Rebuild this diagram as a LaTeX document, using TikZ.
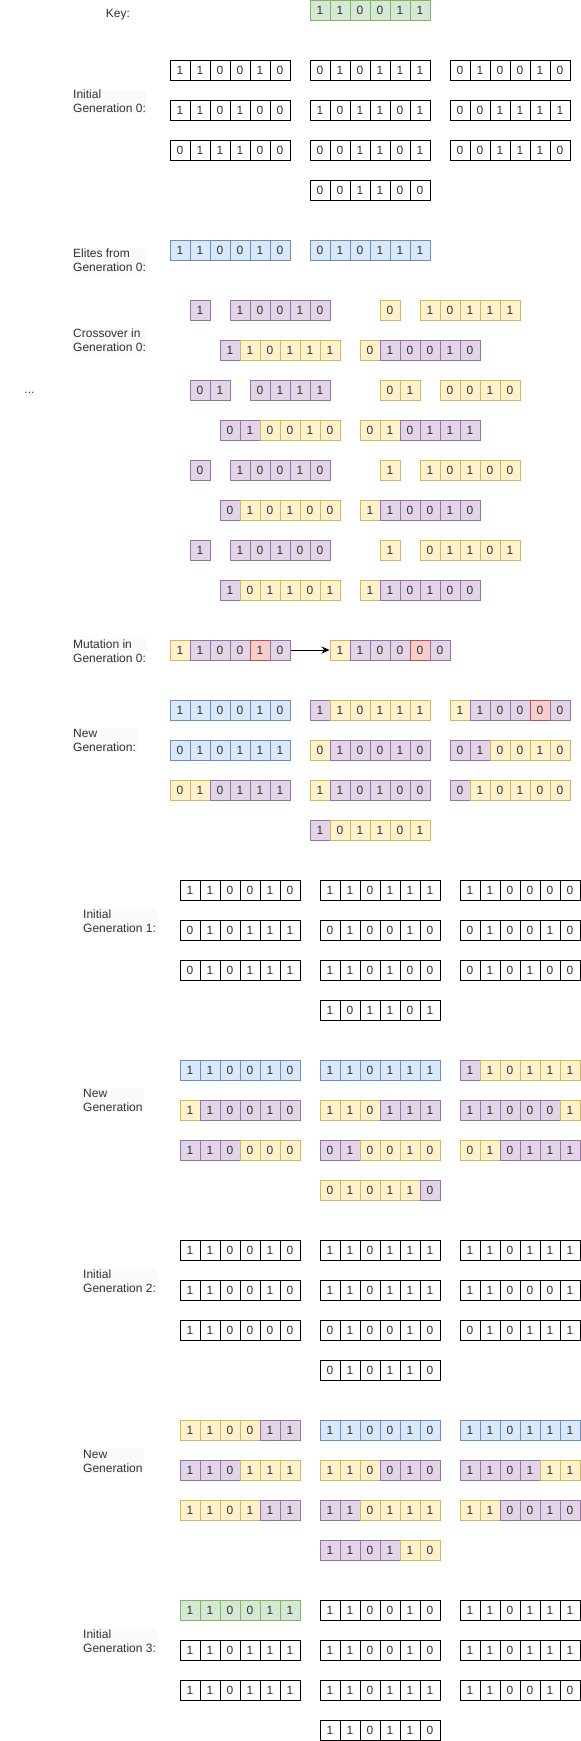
\documentclass[tikz,border=0pt]{standalone}
\usepackage{fontspec}
\setmainfont{Liberation Sans}
\usetikzlibrary{arrows.meta}
\definecolor{wfill}{HTML}{FFFFFF}\definecolor{wline}{HTML}{000000}
\definecolor{gfill}{HTML}{D5E8D4}\definecolor{gline}{HTML}{82B366}
\definecolor{bfill}{HTML}{DAE8FC}\definecolor{bline}{HTML}{6C8EBF}
\definecolor{pfill}{HTML}{E1D5E7}\definecolor{pline}{HTML}{9673A6}
\definecolor{yfill}{HTML}{FFF2CC}\definecolor{yline}{HTML}{D6B656}
\definecolor{rfill}{HTML}{F8CECC}\definecolor{rline}{HTML}{B85450}
\definecolor{labelbg}{HTML}{F8F9FA}
\definecolor{txt}{HTML}{333333}
\newcommand\chrom[4]{\foreach[count=\i] \s/\d in {#4}{\node[cell,cc=\s] (#1-\i) at ({#2+20*\i-10},{#3+10}) {\d};}}
\newcommand\uchrom[5]{\foreach[count=\i] \d in {#5}{\node[cell,cc=#4] (#1-\i) at ({#2+20*\i-10},{#3+10}) {\d};}}
\begin{document}
\begin{tikzpicture}[x=1pt,y=-1pt,
  cell/.style={rectangle,minimum width=20pt,minimum height=20pt,inner sep=0pt,line width=1pt,font=\fontsize{12}{14}\selectfont,text=txt},
  cc/.style={fill=#1fill,draw=#1line},
  lbl/.style={anchor=west,align=left,fill=labelbg,inner xsep=1pt,inner ysep=0.5pt,font=\fontsize{12}{14}\selectfont,text=txt},
  plain/.style={inner sep=0pt,font=\fontsize{12}{14}\selectfont,text=txt},
  arr/.style={-{Stealth[length=8pt,width=7pt]},line width=1pt,black}]
\fill[white] (0,0) rectangle (581,1741);
\useasboundingbox (0,0) rectangle (581,1741);
% key
\node[plain] (keylbl) at (118,15) {Key:};
\uchrom{key}{310}{0}{g}{1,1,0,0,1,1}
% initial generation 0
\node[lbl] (L0) at (72,101.7) {Initial\\Generation 0:};
\uchrom{ga1}{170}{60}{w}{1,1,0,0,1,0}
\uchrom{ga2}{310}{60}{w}{0,1,0,1,1,1}
\uchrom{ga3}{450}{60}{w}{0,1,0,0,1,0}
\uchrom{ga4}{170}{100}{w}{1,1,0,1,0,0}
\uchrom{ga5}{310}{100}{w}{1,0,1,1,0,1}
\uchrom{ga6}{450}{100}{w}{0,0,1,1,1,1}
\uchrom{ga7}{170}{140}{w}{0,1,1,1,0,0}
\uchrom{ga8}{310}{140}{w}{0,0,1,1,0,1}
\uchrom{ga9}{450}{140}{w}{0,0,1,1,1,0}
\uchrom{ga10}{310}{180}{w}{0,0,1,1,0,0}
% elites
\node[lbl] (L1) at (72,260.7) {Elites from\\Generation 0:};
\uchrom{el1}{170}{240}{b}{1,1,0,0,1,0}
\uchrom{el2}{310}{240}{b}{0,1,0,1,1,1}
% crossover
\node[lbl] (L2) at (72,340.7) {Crossover in\\Generation 0:};
\node[plain,anchor=base] (dots) at (29.5,393.5) {...};
\uchrom{xa1}{190}{300}{p}{1}
\uchrom{xa2}{230}{300}{p}{1,0,0,1,0}
\uchrom{xa3}{380}{300}{y}{0}
\uchrom{xa4}{420}{300}{y}{1,0,1,1,1}
\chrom{xb1}{220}{340}{p/1,y/1,y/0,y/1,y/1,y/1}
\chrom{xb2}{360}{340}{y/0,p/1,p/0,p/0,p/1,p/0}
\uchrom{xc1}{190}{380}{p}{0,1}
\uchrom{xc2}{250}{380}{p}{0,1,1,1}
\uchrom{xc3}{380}{380}{y}{0,1}
\uchrom{xc4}{440}{380}{y}{0,0,1,0}
\chrom{xd1}{220}{420}{p/0,p/1,y/0,y/0,y/1,y/0}
\chrom{xd2}{360}{420}{y/0,y/1,p/0,p/1,p/1,p/1}
\uchrom{xe1}{190}{460}{p}{0}
\uchrom{xe2}{230}{460}{p}{1,0,0,1,0}
\uchrom{xe3}{380}{460}{y}{1}
\uchrom{xe4}{420}{460}{y}{1,0,1,0,0}
\chrom{xf1}{220}{500}{p/0,y/1,y/0,y/1,y/0,y/0}
\chrom{xf2}{360}{500}{y/1,p/1,p/0,p/0,p/1,p/0}
\uchrom{xg1}{190}{540}{p}{1}
\uchrom{xg2}{230}{540}{p}{1,0,1,0,0}
\uchrom{xg3}{380}{540}{y}{1}
\uchrom{xg4}{420}{540}{y}{0,1,1,0,1}
\chrom{xh1}{220}{580}{p/1,y/0,y/1,y/1,y/0,y/1}
\chrom{xh2}{360}{580}{y/1,p/1,p/0,p/1,p/0,p/0}
% mutation
\node[lbl] (L3) at (72,650.8) {Mutation in\\Generation 0:};
\chrom{mu1}{170}{640}{y/1,p/1,p/0,p/0,r/1,p/0}
\chrom{mu2}{330}{640}{y/1,p/1,p/0,p/0,r/0,p/0}
\draw[arr] (mu1-6.east) -- (mu2-1.west);
% new generation 0
\node[lbl] (L4) at (72,740.7) {New\\Generation:};
\uchrom{na1}{170}{700}{b}{1,1,0,0,1,0}
\chrom{na2}{310}{700}{p/1,y/1,y/0,y/1,y/1,y/1}
\chrom{na3}{450}{700}{y/1,p/1,p/0,p/0,r/0,p/0}
\uchrom{na4}{170}{740}{b}{0,1,0,1,1,1}
\chrom{na5}{310}{740}{y/0,p/1,p/0,p/0,p/1,p/0}
\chrom{na6}{450}{740}{p/0,p/1,y/0,y/0,y/1,y/0}
\chrom{na7}{170}{780}{y/0,y/1,p/0,p/1,p/1,p/1}
\chrom{na8}{310}{780}{y/1,p/1,p/0,p/1,p/0,p/0}
\chrom{na9}{450}{780}{p/0,y/1,y/0,y/1,y/0,y/0}
\chrom{na10}{310}{820}{p/1,y/0,y/1,y/1,y/0,y/1}
% initial generation 1
\node[lbl] (L5) at (82,921) {Initial\\Generation 1:};
\uchrom{gb1}{180}{880}{w}{1,1,0,0,1,0}
\uchrom{gb2}{320}{880}{w}{1,1,0,1,1,1}
\uchrom{gb3}{460}{880}{w}{1,1,0,0,0,0}
\uchrom{gb4}{180}{920}{w}{0,1,0,1,1,1}
\uchrom{gb5}{320}{920}{w}{0,1,0,0,1,0}
\uchrom{gb6}{460}{920}{w}{0,1,0,0,1,0}
\uchrom{gb7}{180}{960}{w}{0,1,0,1,1,1}
\uchrom{gb8}{320}{960}{w}{1,1,0,1,0,0}
\uchrom{gb9}{460}{960}{w}{0,1,0,1,0,0}
\uchrom{gb10}{320}{1000}{w}{1,0,1,1,0,1}
% new generation 1
\node[lbl] (L6) at (82,1100.7) {New\\Generation};
\uchrom{nb1}{180}{1060}{b}{1,1,0,0,1,0}
\uchrom{nb2}{320}{1060}{b}{1,1,0,1,1,1}
\chrom{nb3}{460}{1060}{p/1,y/1,y/0,y/1,y/1,y/1}
\chrom{nb4}{180}{1100}{y/1,p/1,p/0,p/0,p/1,p/0}
\chrom{nb5}{320}{1100}{y/1,y/1,y/0,p/1,p/1,p/1}
\chrom{nb6}{460}{1100}{p/1,p/1,p/0,p/0,p/0,y/1}
\chrom{nb7}{180}{1140}{p/1,p/1,p/0,y/0,y/0,y/0}
\chrom{nb8}{320}{1140}{p/0,p/1,y/0,y/0,y/1,y/0}
\chrom{nb9}{460}{1140}{y/0,y/1,p/0,p/1,p/1,p/1}
\chrom{nb10}{320}{1180}{y/0,y/1,y/0,y/1,y/1,p/0}
% initial generation 2
\node[lbl] (L7) at (82,1281) {Initial\\Generation 2:};
\uchrom{gc1}{180}{1240}{w}{1,1,0,0,1,0}
\uchrom{gc2}{320}{1240}{w}{1,1,0,1,1,1}
\uchrom{gc3}{460}{1240}{w}{1,1,0,1,1,1}
\uchrom{gc4}{180}{1280}{w}{1,1,0,0,1,0}
\uchrom{gc5}{320}{1280}{w}{1,1,0,1,1,1}
\uchrom{gc6}{460}{1280}{w}{1,1,0,0,0,1}
\uchrom{gc7}{180}{1320}{w}{1,1,0,0,0,0}
\uchrom{gc8}{320}{1320}{w}{0,1,0,0,1,0}
\uchrom{gc9}{460}{1320}{w}{0,1,0,1,1,1}
\uchrom{gc10}{320}{1360}{w}{0,1,0,1,1,0}
% new generation 2
\node[lbl] (L8) at (82,1461) {New\\Generation};
\chrom{nc1}{180}{1420}{y/1,y/1,y/0,y/0,p/1,p/1}
\uchrom{nc2}{320}{1420}{b}{1,1,0,0,1,0}
\uchrom{nc3}{460}{1420}{b}{1,1,0,1,1,1}
\chrom{nc4}{180}{1460}{p/1,p/1,p/0,y/1,y/1,y/1}
\chrom{nc5}{320}{1460}{y/1,y/1,y/0,p/0,p/1,p/0}
\chrom{nc6}{460}{1460}{p/1,p/1,p/0,p/1,y/1,y/1}
\chrom{nc7}{180}{1500}{y/1,y/1,y/0,y/1,p/1,p/1}
\chrom{nc8}{320}{1500}{p/1,p/1,y/0,y/1,y/1,y/1}
\chrom{nc9}{460}{1500}{y/1,y/1,p/0,p/0,p/1,p/0}
\chrom{nc10}{320}{1540}{p/1,p/1,p/0,p/1,y/1,y/0}
% initial generation 3
\node[lbl] (L9) at (82,1641) {Initial\\Generation 3:};
\uchrom{gd1}{180}{1600}{g}{1,1,0,0,1,1}
\uchrom{gd2}{320}{1600}{w}{1,1,0,0,1,0}
\uchrom{gd3}{460}{1600}{w}{1,1,0,1,1,1}
\uchrom{gd4}{180}{1640}{w}{1,1,0,1,1,1}
\uchrom{gd5}{320}{1640}{w}{1,1,0,0,1,0}
\uchrom{gd6}{460}{1640}{w}{1,1,0,1,1,1}
\uchrom{gd7}{180}{1680}{w}{1,1,0,1,1,1}
\uchrom{gd8}{320}{1680}{w}{1,1,0,1,1,1}
\uchrom{gd9}{460}{1680}{w}{1,1,0,0,1,0}
\uchrom{gd10}{320}{1720}{w}{1,1,0,1,1,0}
\end{tikzpicture}
\end{document}
